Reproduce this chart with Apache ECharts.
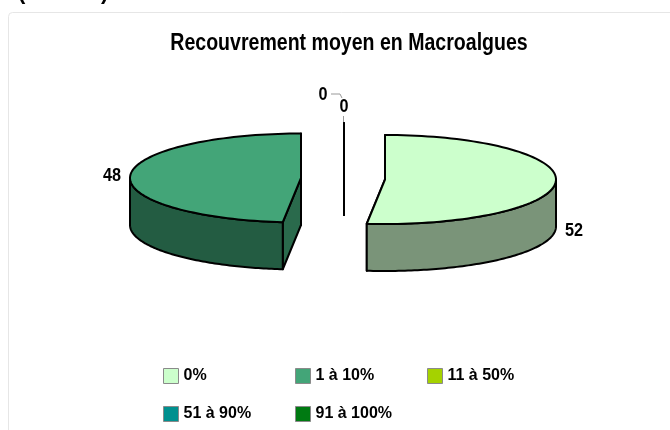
<!DOCTYPE html>
<html><head><meta charset="utf-8">
<style>html,body{margin:0;padding:0;background:#fff}#c{width:670px;height:430px}</style>
<script src="https://cdn.jsdelivr.net/npm/echarts@6/dist/echarts.min.js"></script>
</head><body><div id="c"></div>
<script>
const titleText = 'Recouvrement moyen en Macroalgues';
const categories = ['0%', '1 à 10%', '11 à 50%', '51 à 90%', '91 à 100%'];
const values = [51.7, 48.3, 0, 0, 0];
const topColors = ['#ccffcc', '#43a578', '#a5d200', '#00908f', '#007a12'];
const sideColors = ['#7a9479', '#235c42', '#607a00', '#005554', '#00480a'];
const faceColors = ['#7a9479', '#2a6a4c', '#607a00', '#005554', '#00480a'];

const total = values.reduce((a, b) => a + b, 0);
const RX = 171, RY = 44.5, DEPTH = 47, CY = 179;
// Apex of each exploded slice, relative to the pie's centre
const explode = [[42, 0.5], [-42, -1], [1, -11], [1, -11], [1, -11]];
const CX = 343;

function angles(i) {
  let s = 0;
  for (let k = 0; k < i; k++) s += values[k];
  return [s / total * 2 * Math.PI, (s + values[i]) / total * 2 * Math.PI];
}
function pt(ax, ay, t, dy) {
  return [ax + RX * Math.sin(t), ay - RY * Math.cos(t) + (dy || 0)];
}
function arcPts(ax, ay, a, b, dy) {
  const out = [], n = 90;
  for (let j = 0; j <= n; j++) out.push(pt(ax, ay, a + (b - a) * j / n, dy));
  return out;
}
function makeRender(i) {
  return function () {
    const [a, b] = angles(i);
    const ax = CX + explode[i][0], ay = CY + explode[i][1];
    const line = { stroke: '#000', lineWidth: 2, lineJoin: 'round' };
    const kids = [];
    [a, b].forEach(t => {
      const p = pt(ax, ay, t);
      kids.push({ type: 'polygon', shape: { points: [[ax, ay], p, [p[0], p[1] + DEPTH], [ax, ay + DEPTH]] },
        style: Object.assign({ fill: faceColors[i] }, line) });
    });
    const wa = Math.max(a, Math.PI / 2), wb = Math.min(b, 3 * Math.PI / 2);
    if (wb > wa) {
      const top = arcPts(ax, ay, wa, wb, 0), bot = arcPts(ax, ay, wa, wb, DEPTH).reverse();
      kids.push({ type: 'polygon', shape: { points: top.concat(bot) }, style: Object.assign({ fill: sideColors[i] }, line) });
    }
    kids.push({ type: 'polygon', shape: { points: [[ax, ay]].concat(arcPts(ax, ay, a, b, 0)) },
      style: Object.assign({ fill: topColors[i] }, line) });
    return { type: 'group', children: kids };
  };
}

const series = categories.map((name, i) => ({
  type: 'custom', name, coordinateSystem: 'none', silent: true,
  itemStyle: { color: topColors[i] },
  data: [values[i]], renderItem: makeRender(i), z: 2
}));

const legendBase = {
  orient: 'vertical', itemWidth: 15, itemHeight: 15, itemGap: 22, padding: 5,
  icon: 'rect', selectedMode: false,
  itemStyle: { borderColor: '#8a8a8a', borderWidth: 1 },
  textStyle: { fontFamily: 'Liberation Sans', fontWeight: 'bold', fontSize: 16, color: '#000' }
};
const lbl = { fontFamily: 'Liberation Sans', fontWeight: 'bold', fontSize: 18, fill: '#000' };
const chart = echarts.init(document.getElementById('c'), null, { renderer: 'canvas' });
const T = (x, y, v) => ({ type: 'text', x, y, silent: true, scaleX: .9,
  style: Object.assign({ text: String(Math.round(v)), align: 'center', verticalAlign: 'middle' }, lbl) });
chart.setOption({
  animation: false, backgroundColor: '#fff',
  legend: [
    Object.assign({}, legendBase, { left: 158, top: 363, data: [categories[0], categories[3]] }),
    Object.assign({}, legendBase, { left: 290, top: 363, data: [categories[1], categories[4]] }),
    Object.assign({}, legendBase, { left: 422, top: 363, data: [categories[2]] })
  ],
  series,
  graphic: [
    { type: 'rect', silent: true, z: -1, shape: { x: 8.5, y: 12.5, width: 700, height: 450, r: 4 }, style: { fill: '#fff', stroke: '#e6e6e6', lineWidth: 1 } },
    { type: 'text', x: 18, y: 3.5, silent: true, style: { text: '(en %    )', align: 'left', verticalAlign: 'bottom', fontFamily: 'Liberation Sans', fontWeight: 'bold', fontSize: 22, fill: '#000' } },
    { type: 'text', x: 349, y: 44, silent: true, scaleX: 0.85, style: { text: titleText, align: 'center', verticalAlign: 'middle', fontFamily: 'Liberation Sans', fontWeight: 'bold', fontSize: 23, fill: '#000' } },
    T(112, 176, values[1]),
    T(574, 231.5, values[0]),
    T(323, 95.5, values[3]),
    T(344, 107.5, values[4]),
    { type: 'polyline', silent: true, shape: { points: [[331, 94], [340, 94], [342, 98]] }, style: { fill: null, stroke: '#999', lineWidth: 1 } },
    { type: 'line', silent: true, shape: { x1: 343.5, y1: 116, x2: 343.5, y2: 124 }, style: { stroke: '#999', lineWidth: 1 } }
  ]
});
</script></body></html>
